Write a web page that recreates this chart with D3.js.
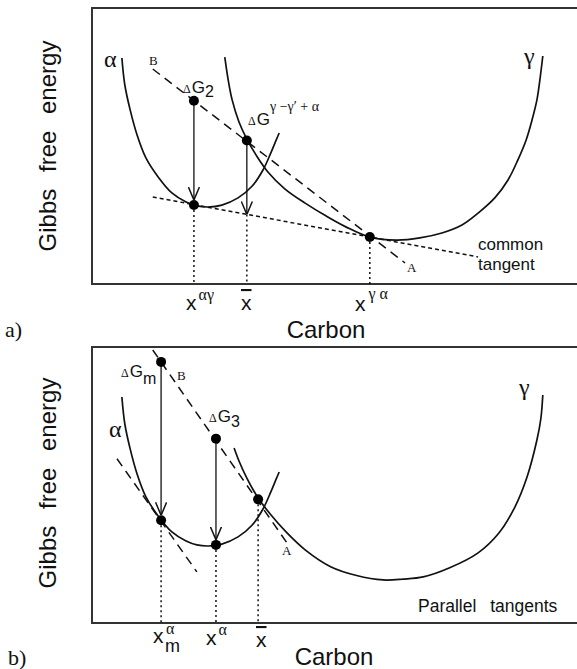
<!DOCTYPE html>
<html>
<head>
<meta charset="utf-8">
<script src="https://cdn.jsdelivr.net/npm/d3@7"></script>
<style>
  body { margin: 0; background: #fff; }
  text { font-family: "Liberation Sans", Arial, sans-serif; fill: #111; }
  .serif { font-family: "Liberation Serif", "Times New Roman", serif; }
</style>
</head>
<body>
<div id="vis"></div>
<script>
const WIDTH = 577;
const HEIGHT = 669;
const MARG = {left: 92, topA: 8, topB: 347};
const VIS_WIDTH = 490;
const VIS_HEIGHT = 276;

// alpha phase free energy curve (same in both panels)
const alphaX = [6.1, 6.7, 7.8, 9.2, 11.0, 13.5, 16.3, 19.2, 21.4, 23.7, 26.5, 29.8, 32.7, 34.9, 36.5, 37.6, 38.2];
const alphaG = [81.9, 72.1, 63.0, 54.0, 45.7, 38.8, 33.0, 29.7, 28.3, 27.9, 28.6, 31.2, 35.5, 41.3, 47.5, 52.2, 54.7];

// gamma curve, panel a
const gammaX = [27.1, 27.8, 28.6, 30.0, 31.6, 33.5, 35.9, 39.4, 43.5, 47.8, 51.8, 56.7, 62.2, 66.9, 71.4, 75.5, 78.8, 82.2, 84.9, 86.9, 88.6, 89.8, 90.8, 91.4, 92.0];
const gammaG = [82.2, 73.9, 66.7, 58.7, 52.5, 46.7, 40.6, 34.4, 29.3, 24.6, 20.7, 17.0, 15.9, 16.7, 18.5, 21.4, 25.7, 31.2, 37.7, 44.9, 52.2, 59.4, 66.7, 73.9, 82.6];

// gamma curve, panel b
const gammaBX = [29.0, 30.0, 31.6, 33.9, 36.5, 39.6, 43.5, 48.8, 54.0, 59.4, 63.5, 67.6, 73.0, 78.8, 83.0, 86.3, 88.8, 90.8, 91.6, 92.0];
const gammaBG = [63.4, 58.7, 52.5, 45.3, 39.2, 33.0, 26.5, 20.3, 17.2, 15.6, 15.9, 16.7, 20.0, 25.4, 32.5, 42.0, 53.0, 66.3, 74.0, 82.6];

// straight lines: B-A and the tangents
const lineBAX = [12.4, 63.9], lineBAG = [77.9, 7.6];
const commonTanX = [12.4, 78.8], commonTanG = [31.5, 9.8];
const lineBABX = [12.4, 39.8], lineBABG = [98.9, 29.0];
const parTanX = [5.1, 21.4], parTanG = [59.5, 18.5];

// marked points
const dotsAX = [20.8, 20.8, 31.6, 56.7];
const dotsAG = [66.4, 28.6, 52.0, 17.0];
const dotsBX = [14.1, 14.1, 25.3, 25.3, 33.9];
const dotsBG = [94.6, 37.2, 66.8, 28.3, 44.8];

// arrows (x, from, to)
const arrowsAX = [20.8, 31.6], arrowsAFrom = [66.4, 52.0], arrowsATo = [28.6, 25.2];
const arrowsBX = [14.1, 25.3], arrowsBFrom = [94.6, 66.8], arrowsBTo = [37.2, 28.3];

// dotted drop lines to the composition axis
const dropsAX = [20.8, 31.6, 56.7], dropsAG = [28.6, 25.2, 17.0];
const dropsBX = [14.1, 25.3, 33.9], dropsBG = [37.2, 28.3, 44.8];

const R = 5;

const svg = d3.select("#vis").append("svg")
    .attr("width", WIDTH)
    .attr("height", HEIGHT);

svg.append("defs").append("marker")
    .attr("id", "vhead")
    .attr("viewBox", "0 0 13 12")
    .attr("refX", 13).attr("refY", 6)
    .attr("markerWidth", 13).attr("markerHeight", 12)
    .attr("markerUnits", "userSpaceOnUse")
    .attr("orient", "auto")
  .append("path")
    .attr("d", "M0,0.5 L13,6 L0,11.5")
    .attr("fill", "none")
    .attr("stroke", "#111")
    .attr("stroke-width", 1.5);

const X_SCALE = d3.scaleLinear().domain([0, 100]).range([0, VIS_WIDTH]);
const Y_SCALE = d3.scaleLinear().domain([0, 100]).range([VIS_HEIGHT, 0]);

const zip = (xs, ys) => xs.map((x, i) => [x, ys[i]]);
const smooth = d3.line().x(d => X_SCALE(d[0])).y(d => Y_SCALE(d[1])).curve(d3.curveCatmullRom.alpha(0.5));
const straight = d3.line().x(d => X_SCALE(d[0])).y(d => Y_SCALE(d[1]));

function panel(top) {
    const g = svg.append("g").attr("transform", "translate(" + MARG.left + "," + top + ")");
    g.append("rect")
        .attr("x", 0).attr("y", 0)
        .attr("width", VIS_WIDTH + 20).attr("height", VIS_HEIGHT)
        .attr("fill", "none").attr("stroke", "#333").attr("stroke-width", 2);
    return g;
}

function curve(g, xs, ys) {
    g.append("path").datum(zip(xs, ys))
        .attr("d", smooth)
        .attr("fill", "none").attr("stroke", "#111").attr("stroke-width", 1.7);
}

function line(g, xs, ys, dash) {
    g.append("path").datum(zip(xs, ys))
        .attr("d", straight)
        .attr("fill", "none").attr("stroke", "#111").attr("stroke-width", 1.5)
        .attr("stroke-dasharray", dash);
}

function drops(g, xs, ys) {
    g.selectAll(null).data(zip(xs, ys)).enter().append("line")
        .attr("x1", d => X_SCALE(d[0])).attr("x2", d => X_SCALE(d[0]))
        .attr("y1", d => Y_SCALE(d[1])).attr("y2", Y_SCALE(0))
        .attr("stroke", "#111").attr("stroke-width", 1.5)
        .attr("stroke-dasharray", "2,3");
}

function arrows(g, xs, from, to, dotX, dotG) {
    const data = xs.map((x, i) => ({x: x, from: from[i], to: to[i]}));
    const onDot = d => dotX.some((dx, j) => dx === d.x && dotG[j] === d.to);
    g.selectAll(null).data(data).enter().append("line")
        .attr("x1", d => X_SCALE(d.x)).attr("x2", d => X_SCALE(d.x))
        .attr("y1", d => Y_SCALE(d.from))
        .attr("y2", d => Y_SCALE(d.to) - (onDot(d) ? R : 0))
        .attr("stroke", "#111").attr("stroke-width", 1.3)
        .attr("marker-end", "url(#vhead)");
}

function dots(g, xs, ys) {
    g.selectAll(null).data(zip(xs, ys)).enter().append("circle")
        .attr("cx", d => X_SCALE(d[0])).attr("cy", d => Y_SCALE(d[1]))
        .attr("r", R).attr("fill", "#000");
}

function ylabel(cy) {
    svg.append("text")
        .attr("transform", "translate(56," + cy + ") rotate(-90)")
        .attr("text-anchor", "middle")
        .style("font-size", "24px")
        .style("word-spacing", "10px")
        .text("Gibbs free energy");
}

function dG(g, x, y, sub, subDy) {
    const t = g.append("text").attr("x", x).attr("y", y);
    t.append("tspan").attr("class", "serif").style("font-size", "12px").text("\u0394");
    t.append("tspan").style("font-size", "17px").attr("dx", 1).text("G");
    if (sub) t.append("tspan").style("font-size", "16px").attr("dy", subDy).text(sub);
    return t;
}

function main() {
    // ---------- panel a ----------
    const ga = panel(MARG.topA);
    curve(ga, alphaX, alphaG);
    curve(ga, gammaX, gammaG);
    line(ga, lineBAX, lineBAG, "9,6");
    line(ga, commonTanX, commonTanG, "4,3");
    drops(ga, dropsAX, dropsAG);
    arrows(ga, arrowsAX, arrowsAFrom, arrowsATo, dotsAX, dotsAG);
    dots(ga, dotsAX, dotsAG);

    ga.append("text").attr("class", "serif").attr("x", 12).attr("y", 59).style("font-size", "24px").text("\u03b1");
    ga.append("text").attr("class", "serif").attr("x", 432).attr("y", 56).style("font-size", "24px").text("\u03b3");
    ga.append("text").attr("class", "serif").attr("x", 57).attr("y", 57).style("font-size", "13px").text("B");
    ga.append("text").attr("class", "serif").attr("x", 315).attr("y", 264).style("font-size", "13px").text("A");
    dG(ga, 91, 85, "2", 4);
    const sup = dG(ga, 156, 117, null, 0);
    sup.append("tspan").attr("class", "serif").style("font-size", "14px").attr("dy", -14)
        .text("\u03b3 \u2212\u03b3\u2032 + \u03b1");
    ga.append("text").attr("x", 386).attr("y", 242).style("font-size", "17px").text("common");
    ga.append("text").attr("x", 386).attr("y", 262).style("font-size", "17px").text("tangent");

    // x labels, panel a
    const xa1 = svg.append("text").attr("x", 186).attr("y", 310).style("font-size", "21px");
    xa1.append("tspan").text("x");
    xa1.append("tspan").attr("class", "serif").style("font-size", "16px").attr("dx", 2).attr("dy", -10).text("\u03b1\u03b3");
    svg.append("text").attr("x", 241).attr("y", 310).style("font-size", "21px")
        .style("text-decoration", "overline").text("x");
    const xa3 = svg.append("text").attr("x", 355).attr("y", 311).style("font-size", "21px");
    xa3.append("tspan").text("x");
    xa3.append("tspan").attr("class", "serif").style("font-size", "16px").attr("dx", 3).attr("dy", -12).text("\u03b3 \u03b1");
    svg.append("text").attr("x", 326).attr("y", 338).attr("text-anchor", "middle").style("font-size", "24px").text("Carbon");
    svg.append("text").attr("class", "serif").attr("x", 5).attr("y", 337).style("font-size", "22px").text("a)");
    ylabel(146);

    // ---------- panel b ----------
    const gb = panel(MARG.topB);
    curve(gb, alphaX, alphaG);
    curve(gb, gammaBX, gammaBG);
    line(gb, lineBABX, lineBABG, "9,6");
    line(gb, parTanX, parTanG, "9,6");
    drops(gb, dropsBX, dropsBG);
    arrows(gb, arrowsBX, arrowsBFrom, arrowsBTo, dotsBX, dotsBG);
    dots(gb, dotsBX, dotsBG);

    gb.append("text").attr("class", "serif").attr("x", 17).attr("y", 90).style("font-size", "24px").text("\u03b1");
    gb.append("text").attr("class", "serif").attr("x", 427).attr("y", 48).style("font-size", "24px").text("\u03b3");
    gb.append("text").attr("class", "serif").attr("x", 85).attr("y", 33).style("font-size", "13px").text("B");
    gb.append("text").attr("class", "serif").attr("x", 190).attr("y", 208).style("font-size", "13px").text("A");
    dG(gb, 29, 30, "m", 7);
    dG(gb, 117, 75, "3", 5);
    gb.append("text").attr("x", 326).attr("y", 265).style("font-size", "17.5px").style("word-spacing", "9px").text("Parallel tangents");

    // x labels, panel b
    svg.append("text").attr("x", 153).attr("y", 643).style("font-size", "21px").text("x");
    svg.append("text").attr("class", "serif").attr("x", 166).attr("y", 634).style("font-size", "16px").text("\u03b1");
    svg.append("text").attr("x", 165).attr("y", 652).style("font-size", "18px").text("m");
    const xb2 = svg.append("text").attr("x", 206).attr("y", 645).style("font-size", "21px");
    xb2.append("tspan").text("x");
    xb2.append("tspan").attr("class", "serif").style("font-size", "16px").attr("dx", 2).attr("dy", -10).text("\u03b1");
    svg.append("text").attr("x", 256).attr("y", 647).style("font-size", "21px")
        .style("text-decoration", "overline").text("x");
    svg.append("text").attr("x", 334).attr("y", 665).attr("text-anchor", "middle").style("font-size", "24px").text("Carbon");
    svg.append("text").attr("class", "serif").attr("x", 8).attr("y", 665).style("font-size", "22px").text("b)");
    ylabel(483);
}

main();
</script>
</body>
</html>
